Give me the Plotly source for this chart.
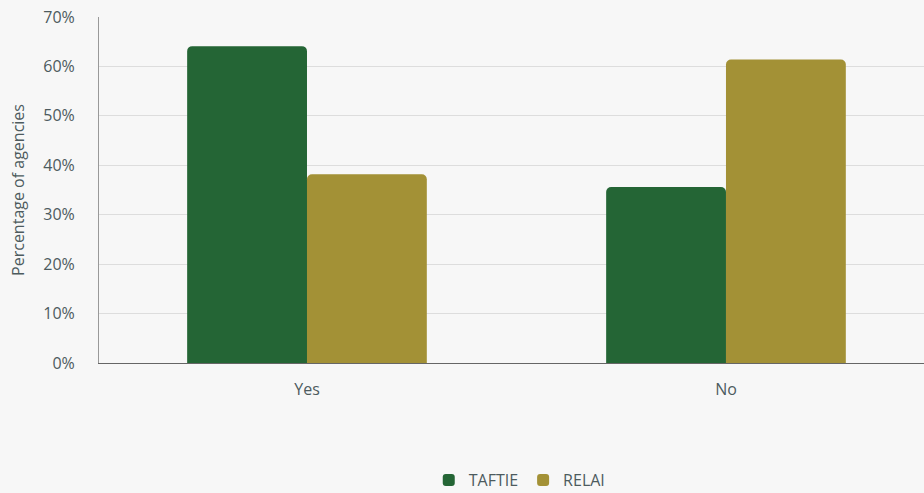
import plotly.graph_objects as go

categories = ["Yes", "No"]
taftie = [64.1, 35.6]
relai = [38.2, 61.4]
tick_vals = [0, 10, 20, 30, 40, 50, 60, 70]
tick_text = ["0%", "10%", "20%", "30%", "40%", "50%", "60%", "70%"]

font_family = "'Open Sans', sans-serif"
text_color = "#4d5b5e"

fig = go.Figure()
fig.add_trace(go.Bar(name="TAFTIE", x=categories, y=taftie, marker_color="#246535",
                     marker_line_width=0))
fig.add_trace(go.Bar(name="RELAI", x=categories, y=relai, marker_color="#a39136",
                     marker_line_width=0))

fig.update_layout(
    width=924, height=493,
    margin=dict(l=99, r=0, t=17, b=130, autoexpand=False),
    paper_bgcolor="#f7f7f7", plot_bgcolor="#f7f7f7",
    barmode="group", bargap=0.428, bargroupgap=0,
    barcornerradius=5,
    font=dict(family=font_family, size=16, color=text_color),
    showlegend=True,
    legend=dict(orientation="h", x=0.51, xanchor="center", xref="paper",
                y=0.026, yanchor="middle", yref="container",
                font=dict(size=16, color=text_color), itemwidth=30,
                tracegroupgap=0),
    xaxis=dict(range=[-0.4964, 1.4726], showgrid=False, showline=True, linecolor="#666666",
               linewidth=1, ticks="", ticklabelstandoff=12, automargin=False,
               tickfont=dict(size=16, color=text_color)),
    yaxis=dict(range=[0, 70], tickvals=tick_vals, ticktext=tick_text,
               showgrid=True, gridcolor="#dddddd", gridwidth=1,
               showline=True, linecolor="#999999", linewidth=1,
               zeroline=False, ticks="", ticklen=0, ticklabelstandoff=20, automargin=False,
               title=dict(text="Percentage of agencies", font=dict(size=16, color=text_color), standoff=14),
               tickfont=dict(size=16, color=text_color)),
)

fig.write_html("out.html")
